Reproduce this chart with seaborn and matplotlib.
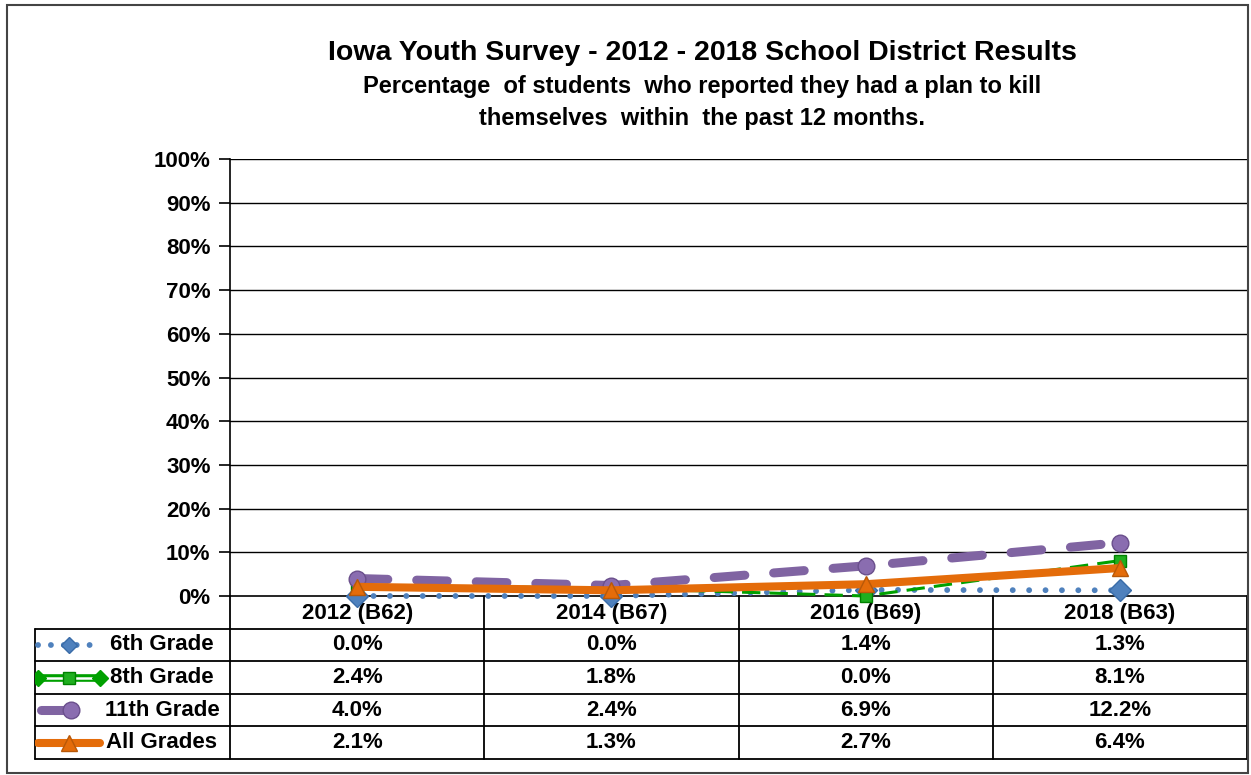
import matplotlib
matplotlib.use("Agg")
import matplotlib.pyplot as plt
import matplotlib.patches as patches
import seaborn as sns

# data
years = ["2012 (B62)", "2014 (B67)", "2016 (B69)", "2018 (B63)"]
grades = ["6th Grade", "8th Grade", "11th Grade", "All Grades"]
sixth = [0.0, 0.0, 1.4, 1.3]
eighth = [2.4, 1.8, 0.0, 8.1]
eleventh = [4.0, 2.4, 6.9, 12.2]
all_grades = [2.1, 1.3, 2.7, 6.4]
y_ticks = list(range(0, 101, 10))

sns.set_theme(style="white")
plt.rcParams["font.family"] = ["Liberation Sans", "DejaVu Sans"]
plt.rcParams["font.weight"] = "bold"
plt.rcParams["text.color"] = "black"
plt.rcParams["xtick.color"] = "black"
plt.rcParams["ytick.color"] = "black"

W, H = 1251, 775
fig = plt.figure(figsize=(W / 100, H / 100), dpi=100)


def px_box(x0, y0, x1, y1):
    return [x0 / W, 1 - y1 / H, (x1 - x0) / W, (y1 - y0) / H]


# line styles for each series
styles = {
    "6th Grade": dict(color="#4F81BD", lw=4.2, ls=(0, (0.01, 2.8)), marker="D", ms=11,
                      mfc="#4F81BD", mec="#3A6CA8", dash_capstyle="round"),
    "8th Grade": dict(color="#00A000", lw=2.2, ls=(0, (6, 3)), marker="s", ms=8.5,
                      mfc="#1FAF1F", mec="#008000"),
    "11th Grade": dict(color="#8064A2", lw=6.5, ls=(0, (3.4, 3.2)), marker="o", ms=12,
                       mfc="#8A6DB0", mec="#6A4F8C", dash_capstyle="round"),
    "All Grades": dict(color="#E46C0A", lw=5.8, ls="-", marker="^", ms=11,
                       mfc="#E46C0A", mec="#B85808", solid_capstyle="round"),
}
series = dict(zip(grades, [sixth, eighth, eleventh, all_grades]))

FS = 16

# main plot area
ax = fig.add_axes(px_box(230, 159, 1247, 596))
for z, g in enumerate(grades):
    st = styles[g]
    sns.lineplot(x=years, y=series[g], ax=ax, color=st["color"], linewidth=st["lw"],
                 linestyle=st["ls"], marker=st["marker"], markersize=st["ms"],
                 markerfacecolor=st["mfc"], markeredgecolor=st["mec"], markeredgewidth=1,
                 clip_on=False, zorder=3 + z,
                 **{k: v for k, v in st.items() if k.endswith("capstyle")})

ax.set_xlim(-0.5, 3.5)
ax.set_ylim(0, 100)
ax.set_yticks(y_ticks)
ax.set_yticklabels([f"{t}%" for t in y_ticks], fontsize=FS, fontweight="bold")
ax.tick_params(axis="y", length=8, width=1.2, color="black", direction="out", pad=6, left=True)
ax.tick_params(axis="x", length=0, pad=5, labelsize=FS)
for lab in ax.get_xticklabels():
    lab.set_fontweight("bold")
ax.set_xlabel("")
ax.set_ylabel("")
for y in y_ticks[1:]:
    ax.axhline(y, color="black", lw=1.0, zorder=1)
for s in ["top", "right"]:
    ax.spines[s].set_visible(False)
for s in ["left", "bottom"]:
    ax.spines[s].set_color("black")
    ax.spines[s].set_linewidth(1.2)

# data table under the plot
tx0 = -0.5 - 195 / (1017 / 4)
tab = fig.add_axes(px_box(35, 596, 1247, 759))
tab.set_xlim(tx0, 3.5)
tab.set_ylim(0, 5)
tab.axis("off")
lk = dict(color="black", lw=1.3, clip_on=False)
for r in range(0, 5):
    tab.plot([tx0, 3.5], [r, r], **lk)
tab.plot([tx0, tx0], [0, 4], **lk)
for xb in [-0.5, 0.5, 1.5, 2.5, 3.5]:
    tab.plot([xb, xb], [0, 5], **lk)

u = 1017 / 4  # pixels per table unit
for i, g in enumerate(grades):
    yc = 3.5 - i
    st = styles[g]
    kx0, kx1 = tx0 + 3 / u, tx0 + 65 / u
    kw = {k: v for k, v in st.items() if k.endswith("capstyle")}
    mk = dict(marker=st["marker"], ms=st["ms"], mfc=st["mfc"], mec=st["mec"], ls="none")
    if g == "8th Grade":
        tab.plot([kx0, kx1], [yc, yc], color=st["color"], lw=5.5)
        tab.plot([kx0, kx1], [yc, yc], color="white", lw=1.8)
        tab.plot([kx0, kx1], [yc, yc], marker="D", ms=8, mfc="#00A000", mec="#00A000", ls="none")
        tab.plot([(kx0 + kx1) / 2], [yc], **mk)
    elif g == "11th Grade":
        tab.plot([kx0 + 3 / u, tx0 + 36 / u], [yc, yc], color=st["color"], lw=st["lw"],
                 solid_capstyle="round")
        tab.plot([tx0 + 36 / u], [yc], **mk)
    elif g == "6th Grade":
        tab.plot([kx0, kx1], [yc, yc], color=st["color"], lw=st["lw"], ls=(0, (0.01, 2.2)), **kw)
        tab.plot([(kx0 + kx1) / 2], [yc], marker="D", ms=8, mfc=st["mfc"], mec=st["mec"], ls="none")
    else:
        tab.plot([kx0, kx1], [yc, yc], color=st["color"], lw=st["lw"], ls=st["ls"], **kw)
        tab.plot([(kx0 + kx1) / 2], [yc], **mk)
    tab.text(tx0 + 127 / u, yc, g, ha="center", va="center", fontsize=FS, fontweight="bold")
    for j, v in enumerate(series[g]):
        tab.text(j, yc, f"{v:.1f}%", ha="center", va="center", fontsize=FS, fontweight="bold")

# titles
fig.text(702 / W, 1 - 53 / H, "Iowa Youth Survey - 2012 - 2018 School District Results",
         ha="center", va="center", fontsize=20.5, fontweight="bold")
fig.text(702 / W, 1 - 87 / H, "Percentage  of students  who reported they had a plan to kill",
         ha="center", va="center", fontsize=17, fontweight="bold")
fig.text(702 / W, 1 - 119 / H, "themselves  within  the past 12 months.",
         ha="center", va="center", fontsize=17, fontweight="bold")

# outer chart border
fig.patches.append(patches.Rectangle((7 / W, 1 - 773 / H), (1248 - 7) / W, (773 - 5) / H,
                                     transform=fig.transFigure, fill=False,
                                     edgecolor="#444444", lw=1.5))

fig.savefig("out.png", dpi=100)
